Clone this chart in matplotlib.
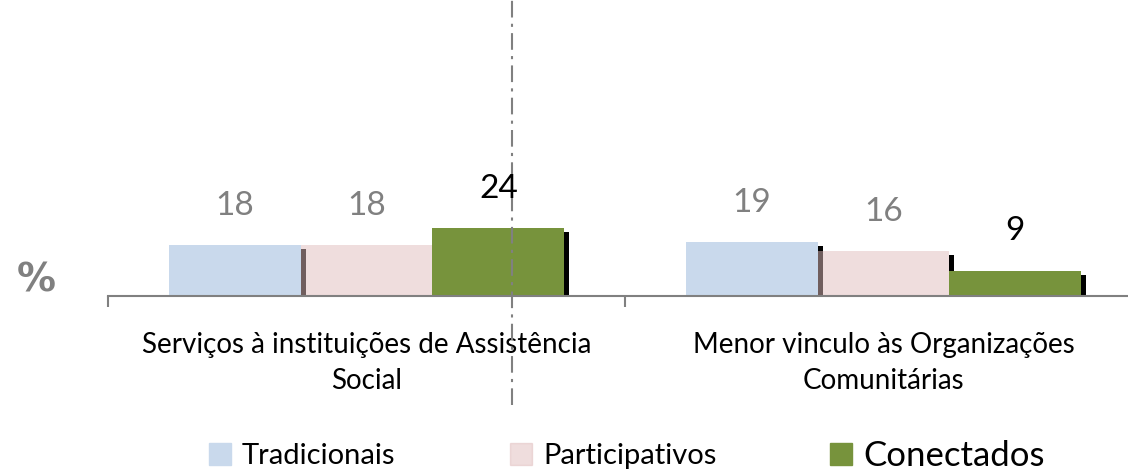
import matplotlib
matplotlib.use("Agg")
from matplotlib import pyplot as plt
from matplotlib.patches import Rectangle

plt.rcParams['font.family'] = ['Lato', 'DejaVu Sans']

categories = ["Serviços à instituições de Assistência\nSocial",
              "Menor vinculo às Organizações\nComunitárias"]
series = ["Tradicionais", "Participativos", "Conectados"]
tradicionais = [18, 19]
participativos = [18, 16]
conectados = [24, 9]

colors = [(0.79, 0.85, 0.925, 1.0), (0.88, 0.74, 0.74, 0.5), (0.467, 0.576, 0.235, 1.0)]
label_colors = ["#808080", "#808080", "black"]
legend_sizes = [21, 21, 25]
legend_x = [209, 510, 830]


def display():
    fig = plt.figure(figsize=(11.28, 4.72), dpi=100)
    # axis spans past the right edge, like the original layout
    ax = fig.add_axes([108 / 1128, 176 / 472, 1034 / 1128, 296 / 472])
    ax.set_xlim(-0.5, 1.5)
    ax.set_ylim(0, 104.6)

    width = 0.255
    sx = 5 / 517       # shadow width in data units
    sy = 4 / 2.83      # shadow drop in data units
    for i, vals in enumerate([tradicionais, participativos, conectados]):
        xs = [c + (i - 1) * width for c in range(len(categories))]
        # thin dark shadow on the right side of each bar
        ax.bar([x + width / 2 for x in xs], [v - sy for v in vals], width=sx,
               align='edge', color='black')
        ax.bar(xs, vals, width=width, color=colors[i])
        for x, v in zip(xs, vals):
            ax.text(x, v + 8.5, str(v), ha='center', va='bottom',
                    fontsize=24, color=label_colors[i])

    for s in ['top', 'right', 'left']:
        ax.spines[s].set_visible(False)
    ax.spines['bottom'].set_color('#808080')
    ax.spines['bottom'].set_linewidth(1.5)
    ax.set_yticks([])
    ax.set_xticks(range(len(categories)))
    ax.set_xticklabels(categories, fontsize=20, linespacing=1.45)
    ax.tick_params(axis='x', which='major', length=0, pad=26)
    ax.set_xticks([-0.5, 0.5, 1.5], minor=True)
    ax.tick_params(axis='x', which='minor', length=8, width=1.5, color='#808080')

    # divider between the two groups
    ax.axvline(0.2814, ymin=-109 / 296, ymax=1, clip_on=False, color='#808080',
               linestyle=(0, (8, 3, 1.5, 3)), linewidth=1.5)

    fig.text(36 / 1128, 1 - 280 / 472, "%", fontsize=28, fontweight='bold',
             family='DejaVu Sans', color='#808080', ha='center', va='center')

    # legend built by hand: square + label
    for name, col, size, lx in zip(series, colors, legend_sizes, legend_x):
        fig.patches.append(Rectangle((lx / 1128, 1 - 465 / 472), 22 / 1128, 22 / 472,
                                     transform=fig.transFigure, color=col))
        fig.text((lx + 33) / 1128, 1 - 456 / 472, name, fontsize=size,
                 ha='left', va='center', color='black')

    fig.savefig("out.png", dpi=100)


if __name__ == "__main__":
    display()
